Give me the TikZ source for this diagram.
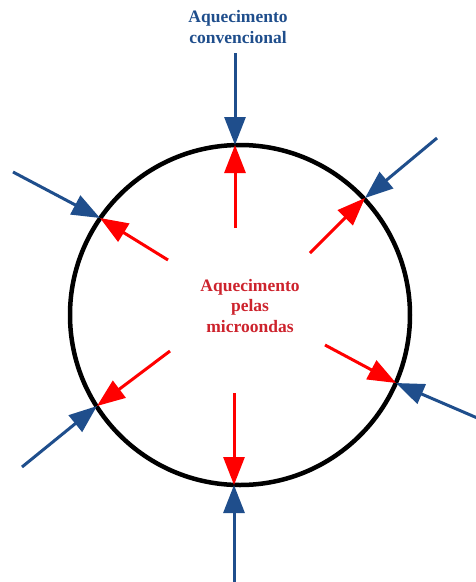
\documentclass[tikz,border=0pt]{standalone}
\usepackage{fontspec}
\setmainfont{Liberation Serif}
\usetikzlibrary{arrows.meta}
\definecolor{heatblue}{RGB}{31,78,140}
\definecolor{mwred}{RGB}{255,0,0}
\definecolor{mwtext}{RGB}{205,35,45}
\begin{document}
\begin{tikzpicture}[x=1pt,y=-1pt,
  conv/.style={draw=heatblue, line width=3pt, -{Triangle[length=28pt,width=21pt]}},
  micro/.style={draw=mwred, line width=3pt, -{Triangle[length=28pt,width=21pt]}},
  lbl/.style={font=\bfseries\fontsize{17.5}{20.5}\selectfont, align=center, inner sep=0pt}]
\useasboundingbox (0,0) rectangle (476,582);
\node[draw=black, circle, line width=4.5pt, minimum size=340pt, inner sep=0pt] (ring) at (240,315) {};
% contact points on the ring
\coordinate (pT) at (235,145);
\coordinate (pUL) at (100,218);
\coordinate (pUR) at (365,198);
\coordinate (pLL) at (97,406);
\coordinate (pLR) at (396,383);
\coordinate (pB) at (234,485);
% outer starts
\coordinate (oT) at (235,53);
\coordinate (oUL) at (13,172);
\coordinate (oUR) at (437,138);
\coordinate (oLL) at (22,467);
\coordinate (oLR) at (482,420);
\coordinate (oB) at (234,582);
% inner starts
\coordinate (iT) at (235,228);
\coordinate (iUL) at (168,260);
\coordinate (iUR) at (310,253);
\coordinate (iLL) at (170,351);
\coordinate (iLR) at (325,345);
\coordinate (iB) at (234,393);
\node[lbl, text=heatblue] (convlabel) at (238,27) {Aquecimento\\convencional};
\node[lbl, text=mwtext] (mwlabel) at (250,306) {Aquecimento\\pelas\\microondas};
\foreach \p in {T,UL,UR,LL,LR,B}{
  \draw[conv] (o\p) -- (p\p);
  \draw[micro] (i\p) -- (p\p);
}
\end{tikzpicture}
\end{document}
